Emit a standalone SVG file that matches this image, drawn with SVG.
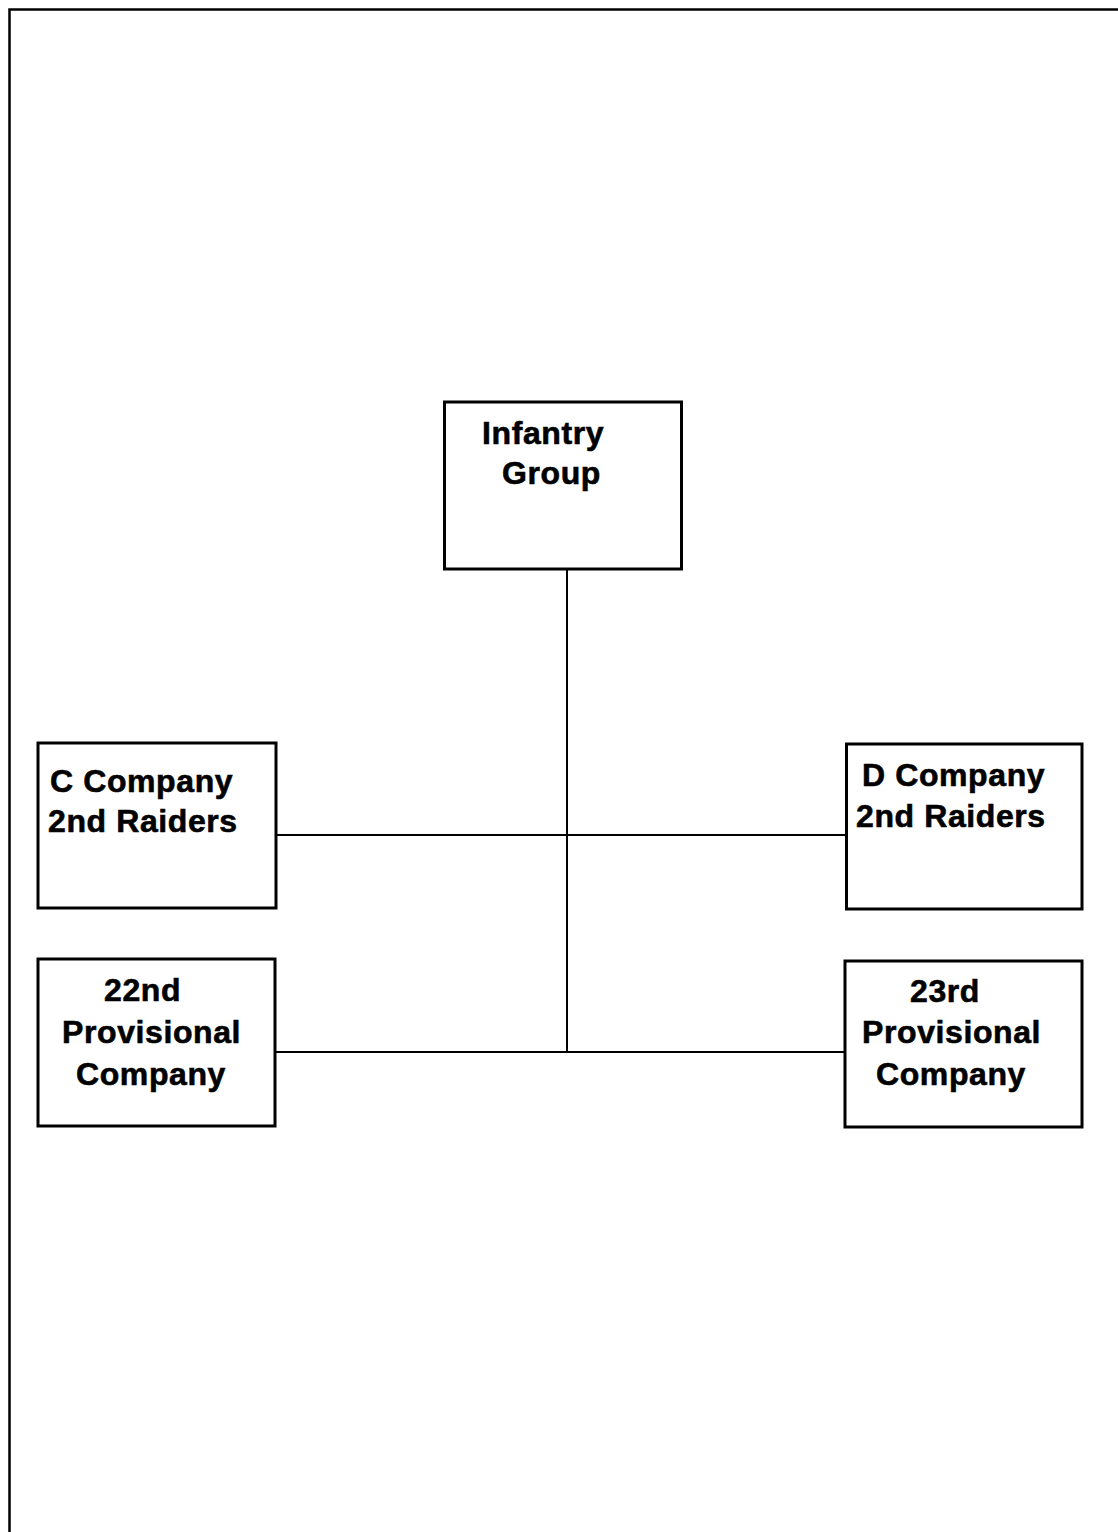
<svg xmlns="http://www.w3.org/2000/svg" width="1118" height="1532" viewBox="0 0 1118 1532">
<style>
.box{fill:#fff;stroke:#000;stroke-width:3}
.t{font-family:"Liberation Sans",Arial,sans-serif;font-weight:bold;font-size:32px;letter-spacing:0.6px;fill:#000;stroke:#000;stroke-width:0.6}
.c{stroke:#000;stroke-width:2;fill:none}
</style>
<rect width="1118" height="1532" fill="#fff"/>
<path d="M9.5 1532 V9.5 H1118" stroke="#000" stroke-width="2.5" fill="none"/>
<g id="connectors">
<line class="c" x1="567" y1="569" x2="567" y2="1052"/>
<line class="c" x1="276" y1="835" x2="846" y2="835"/>
<line class="c" x1="275" y1="1052" x2="844" y2="1052"/>
</g>
<g id="infantry-group">
<rect class="box" x="444.5" y="402" width="237" height="167"/>
<text class="t" x="482" y="444">Infantry</text>
<text class="t" x="502" y="484">Group</text>
</g>
<g id="c-company">
<rect class="box" x="38" y="743" width="238" height="165"/>
<text class="t" x="50" y="792">C Company</text>
<text class="t" x="48" y="832">2nd Raiders</text>
</g>
<g id="d-company">
<rect class="box" x="846.5" y="744" width="235.5" height="165"/>
<text class="t" x="862" y="786">D Company</text>
<text class="t" x="856" y="827">2nd Raiders</text>
</g>
<g id="company-22">
<rect class="box" x="38" y="959" width="237" height="167"/>
<text class="t" x="104" y="1001">22nd</text>
<text class="t" x="62" y="1043">Provisional</text>
<text class="t" x="76" y="1085">Company</text>
</g>
<g id="company-23">
<rect class="box" x="845" y="961" width="237" height="166"/>
<text class="t" x="910" y="1002">23rd</text>
<text class="t" x="862" y="1043">Provisional</text>
<text class="t" x="876" y="1085">Company</text>
</g>
</svg>
